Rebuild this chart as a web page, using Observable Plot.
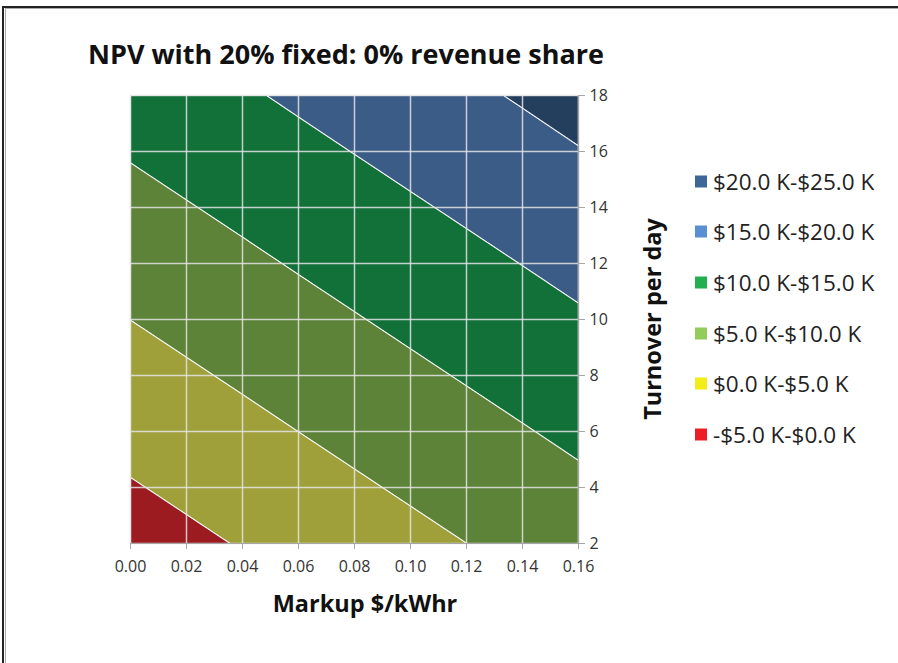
<!DOCTYPE html>
<html>
<head>
<meta charset="utf-8">
<script src="https://cdn.jsdelivr.net/npm/d3@7"></script>
<script src="https://cdn.jsdelivr.net/npm/@observablehq/plot@0.6"></script>
<style>
  html, body { margin: 0; padding: 0; background: #fff; overflow: hidden; width: 898px; height: 663px; }
  #wrap { position: relative; width: 898px; height: 663px; overflow: hidden; font-family: "Open Sans", sans-serif; }
  #wrap svg { position: absolute; left: 0; top: 0; }
  .abs { position: absolute; white-space: nowrap; }
  .c { transform: translate(-50%, -50%); }
  #title { font-weight: 700; font-size: 27px; color: #111; }
  .axt { font-weight: 700; font-size: 23.5px; color: #111; }
  .leg { font-size: 22.5px; color: #222; display: flex; align-items: center; transform: translateY(-50%); }
  .sw { width: 12px; height: 12px; margin-right: 6px; display: inline-block; flex: none; }
  #b1 { left: 2px; top: 6px; width: 896px; height: 657px; border-left: 2px solid #222; border-top: 2px solid #222; box-sizing: border-box; }
  #b2 { left: 5px; top: 8px; width: 893px; height: 655px; border-left: 1px solid #aaa; border-top: 1px solid #aaa; box-sizing: border-box; }
  #cover { left: 884px; top: 10px; width: 14px; height: 653px; background: #fff; }
</style>
</head>
<body>
<div id="wrap"></div>
<script>
// Data
const markup = [0, 0.02, 0.04, 0.06, 0.08, 0.10, 0.12, 0.14, 0.16];   // $/kWhr
const turnover = [2, 4, 6, 8, 10, 12, 14, 16, 18];                      // per day
// NPV in $K; rows follow turnover, columns follow markup
const npvK = [
  [-2.10, -0.92,  0.26,  1.45,  2.63,  3.81,  4.99,  6.17,  7.36],
  [-0.32,  0.86,  2.04,  3.23,  4.41,  5.59,  6.77,  7.95,  9.14],
  [ 1.46,  2.64,  3.82,  5.01,  6.19,  7.37,  8.55,  9.73, 10.92],
  [ 3.24,  4.42,  5.60,  6.79,  7.97,  9.15, 10.33, 11.51, 12.70],
  [ 5.02,  6.20,  7.38,  8.57,  9.75, 10.93, 12.11, 13.29, 14.48],
  [ 6.80,  7.98,  9.16, 10.35, 11.53, 12.71, 13.89, 15.07, 16.26],
  [ 8.58,  9.76, 10.94, 12.13, 13.31, 14.49, 15.67, 16.85, 18.04],
  [10.36, 11.54, 12.72, 13.91, 15.09, 16.27, 17.45, 18.63, 19.82],
  [12.13, 13.31, 14.49, 15.68, 16.86, 18.04, 19.22, 20.40, 21.59]
];
const bandLower = [-5, 0, 5, 10, 15, 20];
const bandLabels = ["-$5.0 K-$0.0 K", "$0.0 K-$5.0 K", "$5.0 K-$10.0 K", "$10.0 K-$15.0 K", "$15.0 K-$20.0 K", "$20.0 K-$25.0 K"];
const surfaceColors = ["#9b1b20", "#9fa03a", "#5c8338", "#127039", "#3b5c87", "#243e5e"];
const legendColors = ["#ee1c25", "#f2ec18", "#93cc58", "#23ae50", "#5b8fd4", "#3e6797"];
const xTicks = markup;
const yTicks = turnover;

const grid = turnover.flatMap((t, i) => markup.map((m, j) => ({markup: m, turnover: t, npv: npvK[i][j]})));

const chart = Plot.plot({
  width: 898, height: 663,
  marginLeft: 130, marginRight: 320, marginTop: 95, marginBottom: 120,
  x: {domain: [0, 0.16]},
  y: {domain: [2, 18]},
  color: {type: "threshold", domain: bandLower.slice(1), range: surfaceColors},
  style: {fontFamily: "Open Sans, sans-serif", fontSize: "16px", color: "#404040", background: "transparent"},
  marks: [
    Plot.contour(grid, {x: "markup", y: "turnover", fill: "npv", thresholds: bandLower,
      interpolate: "barycentric", pixelSize: 1, stroke: "white", strokeWidth: 1.1}),
    Plot.gridX(xTicks, {stroke: "#e4e4e4", strokeOpacity: 0.85, strokeWidth: 1.5}),
    Plot.gridY(yTicks, {stroke: "#e4e4e4", strokeOpacity: 0.85, strokeWidth: 1.5}),
    Plot.ruleY([2], {stroke: "#a6a6a6", strokeWidth: 1.2}),
    Plot.ruleX([0.16], {stroke: "#a6a6a6", strokeWidth: 1.2}),
    Plot.axisX(xTicks, {tickFormat: d3.format(".2f"), tickSize: 6, tickPadding: 11, stroke: "#a6a6a6", fill: "#333", label: null}),
    Plot.axisY(yTicks, {anchor: "right", tickSize: 6, tickPadding: 5, stroke: "#a6a6a6", fill: "#333", label: null})
  ]
});

const wrap = document.getElementById("wrap");
wrap.appendChild(chart);

function add(html, cls, style) {
  const d = document.createElement("div");
  d.className = "abs " + cls;
  d.innerHTML = html;
  Object.assign(d.style, style);
  wrap.appendChild(d);
  return d;
}
add("", "", {}).id = "b1";
add("", "", {}).id = "b2";
add("NPV with 20% fixed: 0% revenue share", "c", {left: "346px", top: "53px"}).id = "title";
add("Markup $/kWhr", "c axt", {left: "365px", top: "603px"});
add("Turnover per day", "axt", {left: "652px", top: "319px", transform: "translate(-50%,-50%) rotate(-90deg)"});

const legendY = [434, 383, 333, 282, 231, 181];
bandLabels.forEach((lab, i) => {
  add(`<span class="sw" style="background:${legendColors[i]}"></span>${lab}`, "leg", {left: "695px", top: legendY[i] + "px"});
});
add("", "", {}).id = "cover";
</script>
</body>
</html>
